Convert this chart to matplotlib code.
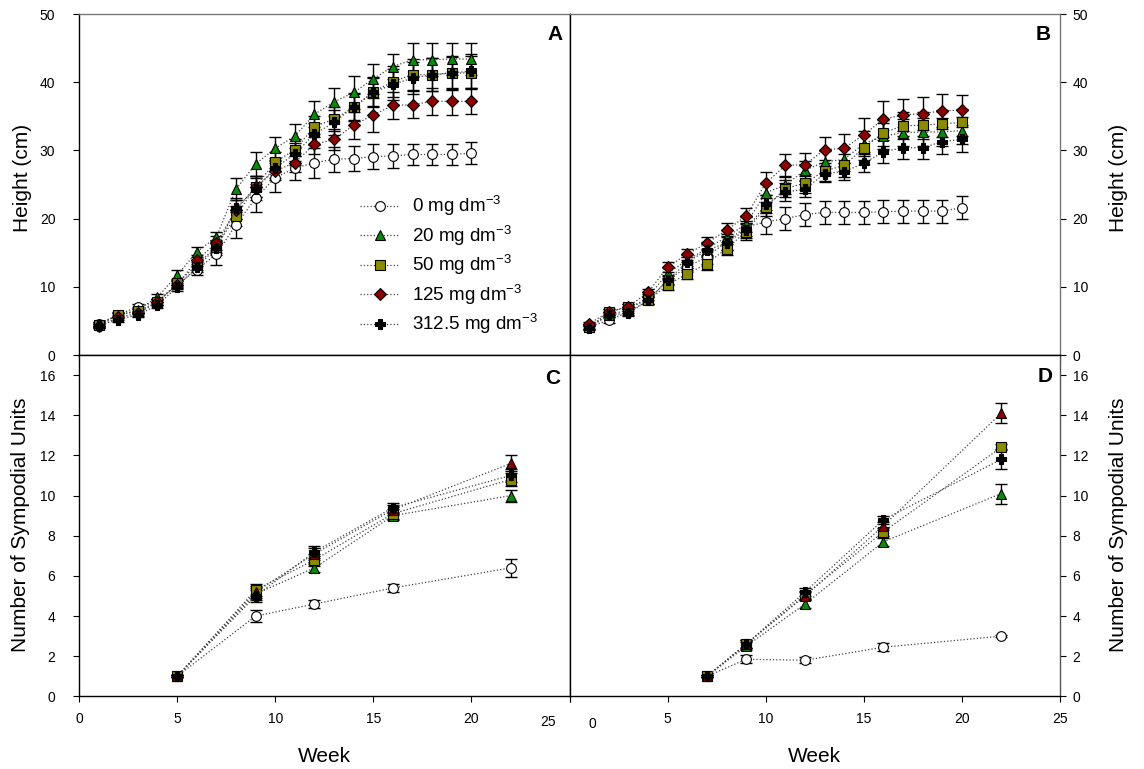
import matplotlib
matplotlib.use("Agg")
import matplotlib.pyplot as plt
from matplotlib.transforms import ScaledTranslation

plt.rcParams['font.family'] = ['Liberation Sans', 'DejaVu Sans']
plt.rcParams['mathtext.default'] = 'regular'

# ---------------- data ----------------
labels = ['0 mg dm$^{-3}$', '20 mg dm$^{-3}$', '50 mg dm$^{-3}$',
          '125 mg dm$^{-3}$', '312.5 mg dm$^{-3}$']

weeks_top = list(range(1, 21))

A_0 = [4.6, 5.9, 7.1, 7.8, 10.3, 12.5, 14.8, 19.1, 23.0, 26.0, 27.4, 28.2, 28.7, 28.8, 29.1, 29.2, 29.4, 29.4, 29.4, 29.6]
A_20 = [4.5, 5.8, 6.6, 8.5, 11.7, 15.1, 17.3, 24.3, 28.0, 30.3, 32.1, 35.3, 37.1, 38.5, 40.5, 42.3, 43.3, 43.3, 43.4, 43.4]
A_50 = [4.4, 5.9, 6.4, 7.8, 10.5, 13.2, 15.9, 20.4, 24.7, 28.3, 30.1, 33.5, 34.6, 36.3, 38.6, 40.1, 41.1, 41.1, 41.3, 41.4]
A_125 = [4.2, 5.5, 6.1, 7.8, 10.3, 13.9, 16.4, 21.3, 24.7, 27.0, 28.2, 30.9, 31.6, 33.7, 35.2, 36.6, 36.7, 37.2, 37.2, 37.2]
A_312 = [4.3, 5.2, 5.9, 7.3, 10.0, 12.9, 15.7, 21.5, 24.4, 27.4, 29.5, 32.4, 34.1, 36.4, 38.5, 39.7, 40.6, 41.1, 41.4, 41.6]

A_0e = [0.3, 0.3, 0.4, 0.4, 0.5, 0.8, 1.6, 1.9, 2.1, 2.1, 1.8, 2.2, 1.8, 1.8, 1.9, 1.8, 1.6, 1.6, 1.6, 1.6]
A_20e = [0.3, 0.4, 0.4, 0.5, 0.7, 0.8, 0.8, 1.6, 1.7, 1.7, 1.8, 1.9, 2.1, 2.4, 2.2, 1.9, 2.4, 2.4, 2.4, 2.3]
A_50e = [0.3, 0.4, 0.4, 0.4, 0.6, 0.8, 1.0, 1.5, 1.6, 1.5, 1.6, 1.6, 1.8, 2.0, 2.1, 2.3, 2.3, 2.4, 2.4, 2.4]
A_125e = [0.3, 0.4, 0.4, 0.4, 0.6, 0.8, 1.0, 1.4, 1.5, 1.4, 1.4, 1.5, 1.6, 2.0, 2.5, 2.0, 2.0, 2.0, 2.0, 1.9]
A_312e = [0.3, 0.4, 0.4, 0.4, 0.6, 0.8, 1.0, 1.5, 1.6, 1.5, 1.6, 1.6, 1.8, 2.0, 2.1, 2.3, 2.4, 2.4, 2.4, 2.5]

B_0 = [4.1, 5.1, 6.3, 8.0, 11.0, 12.9, 14.4, 16.6, 18.8, 19.5, 20.0, 20.6, 20.9, 20.9, 20.9, 21.0, 21.1, 21.1, 21.1, 21.6]
B_20 = [4.1, 5.9, 6.6, 8.5, 12.0, 13.9, 15.6, 17.3, 19.2, 23.8, 24.9, 27.1, 28.3, 28.7, 31.0, 32.1, 32.6, 32.7, 32.7, 32.9]
B_50 = [4.1, 6.3, 7.1, 8.0, 10.3, 11.9, 13.4, 15.6, 18.1, 21.7, 24.4, 25.2, 27.0, 27.8, 30.4, 32.6, 33.6, 33.7, 33.9, 34.1]
B_125 = [4.6, 6.3, 7.1, 9.2, 12.9, 14.8, 16.4, 18.3, 20.4, 25.2, 27.8, 27.9, 30.1, 30.3, 32.3, 34.6, 35.2, 35.4, 35.8, 35.9]
B_312 = [4.0, 5.9, 6.1, 8.0, 11.0, 13.6, 15.4, 16.4, 18.4, 22.1, 23.9, 24.3, 26.6, 26.9, 28.1, 29.8, 30.4, 30.4, 31.3, 31.6]

B_0e = [0.3, 0.4, 0.4, 0.5, 0.6, 0.8, 1.0, 1.2, 1.4, 1.8, 1.7, 1.7, 1.7, 1.7, 1.7, 1.7, 1.7, 1.7, 1.7, 1.7]
B_20e = [0.3, 0.4, 0.4, 0.5, 0.7, 0.8, 0.9, 1.0, 1.2, 1.3, 1.3, 1.4, 1.6, 1.7, 1.8, 1.9, 2.0, 2.0, 2.0, 2.0]
B_50e = [0.3, 0.4, 0.4, 0.5, 0.7, 0.8, 0.9, 1.0, 1.2, 1.3, 1.3, 1.4, 1.6, 1.7, 1.8, 1.9, 2.0, 2.0, 2.0, 2.0]
B_125e = [0.3, 0.4, 0.4, 0.5, 0.7, 0.8, 0.9, 1.0, 1.2, 1.7, 1.7, 1.7, 1.9, 2.1, 2.5, 2.7, 2.4, 2.4, 2.4, 2.2]
B_312e = [0.3, 0.4, 0.4, 0.5, 0.7, 0.8, 0.9, 1.0, 1.2, 1.3, 1.3, 1.2, 1.1, 1.2, 1.3, 1.7, 1.7, 1.7, 1.8, 1.9]

weeks_C = [5, 9, 12, 16, 22]
C_0 = [1.0, 4.0, 4.6, 5.4, 6.4]
C_20 = [1.0, 5.1, 6.4, 9.0, 10.0]
C_50 = [1.0, 5.3, 6.8, 9.1, 10.8]
C_125 = [1.0, 5.2, 7.1, 9.3, 11.6]
C_312 = [1.0, 5.0, 7.2, 9.4, 11.0]
C_0e = [0.05, 0.3, 0.2, 0.2, 0.45]
C_20e = [0.05, 0.3, 0.2, 0.2, 0.3]
C_50e = [0.05, 0.3, 0.3, 0.25, 0.3]
C_125e = [0.05, 0.3, 0.3, 0.25, 0.4]
C_312e = [0.05, 0.3, 0.3, 0.25, 0.3]

weeks_D = [7, 9, 12, 16, 22]
D_0 = [1.0, 1.85, 1.8, 2.45, 3.0]
D_20 = [1.0, 2.5, 4.6, 7.7, 10.1]
D_50 = [1.0, 2.6, 5.05, 8.2, 12.4]
D_125 = [1.0, 2.6, 5.0, 8.5, 14.1]
D_312 = [1.0, 2.6, 5.2, 8.8, 11.8]
D_0e = [0.05, 0.2, 0.15, 0.2, 0.05]
D_20e = [0.05, 0.2, 0.2, 0.2, 0.5]
D_50e = [0.05, 0.2, 0.2, 0.2, 0.15]
D_125e = [0.05, 0.2, 0.2, 0.2, 0.5]
D_312e = [0.05, 0.2, 0.2, 0.2, 0.5]

# ---------------- styles ----------------
face = ['white', '#0a8a0a', '#8b8b00', '#8b0000', 'black']
mk_top = ['o', '^', 's', 'D', 'P']
mk_bot = ['o', '^', 's', '^', 'P']
msize_top = [7, 7.5, 7, 6.5, 7.2]
msize_bot = [7, 7.5, 7, 7.5, 7.2]

W, H = 1144, 769
fig = plt.figure(figsize=(W / 100, H / 100), dpi=100)

def fx(p):
    return p / W

def fy(p):
    return 1 - p / H

xl, xm, xr = 79, 569.6, 1060
yt, ym, yb = 14, 355, 696.4

axA = fig.add_axes([fx(xl), fy(ym), fx(xm - xl), fy(yt) - fy(ym)])
axB = fig.add_axes([fx(xm), fy(ym), fx(xr - xm), fy(yt) - fy(ym)])
axC = fig.add_axes([fx(xl), fy(yb), fx(xm - xl), fy(ym) - fy(yb)])
axD = fig.add_axes([fx(xm), fy(yb), fx(xr - xm), fy(ym) - fy(yb)])


def draw(ax, x, series, errs, markers, sizes):
    handles = []
    for i, (y, e) in enumerate(zip(series, errs)):
        ax.errorbar(x, y, yerr=e, fmt='none', ecolor='black', elinewidth=1.0,
                    capsize=4.5, capthick=1.0, zorder=2 + i * 0.1)
        h, = ax.plot(x, y, linestyle=':', color='#444444', linewidth=0.9,
                     marker=markers[i], markersize=sizes[i],
                     markerfacecolor=face[i], markeredgecolor='black',
                     markeredgewidth=0.8, zorder=3 + i * 0.1, label=labels[i])
        handles.append(h)
    return handles


hA = draw(axA, weeks_top, [A_0, A_20, A_50, A_125, A_312],
          [A_0e, A_20e, A_50e, A_125e, A_312e], mk_top, msize_top)
draw(axB, weeks_top, [B_0, B_20, B_50, B_125, B_312],
     [B_0e, B_20e, B_50e, B_125e, B_312e], mk_top, msize_top)
draw(axC, weeks_C, [C_0, C_20, C_50, C_125, C_312],
     [C_0e, C_20e, C_50e, C_125e, C_312e], mk_bot, msize_bot)
draw(axD, weeks_D, [D_0, D_20, D_50, D_125, D_312],
     [D_0e, D_20e, D_50e, D_125e, D_312e], mk_bot, msize_bot)

for ax in (axA, axB, axC, axD):
    ax.set_xlim(0, 25)
    ax.set_xticks([0, 5, 10, 15, 20, 25])
    for s in ax.spines.values():
        s.set_linewidth(1.0)

for ax in (axA, axB):
    ax.set_ylim(0, 50)
    ax.set_yticks([0, 10, 20, 30, 40, 50])
    ax.tick_params(axis='x', direction='out', length=4, labelbottom=False)
for ax in (axC, axD):
    ax.set_ylim(0, 17)
    ax.set_yticks(list(range(0, 17, 2)))
    ax.tick_params(axis='x', direction='out', length=4, labelsize=10, pad=7)

gray = '#777777'
axA.spines['top'].set_color(gray)
axB.spines['top'].set_color(gray)
axB.spines['right'].set_color(gray)
axD.spines['right'].set_color('#555555')

for ax in (axA, axC):
    ax.tick_params(axis='y', direction='out', length=4, labelsize=10, pad=13,
                   left=True, right=False, labelleft=True)
for ax in (axB, axD):
    ax.tick_params(axis='y', direction='out', length=4, labelsize=10, pad=5,
                   left=False, right=True, labelleft=False, labelright=True)

# shift peculiar tick labels as in reference
fig.canvas.draw()
for lab in axC.get_xticklabels():
    if lab.get_text() == '25':
        lab.set_transform(lab.get_transform() + ScaledTranslation(-0.22, -0.03, fig.dpi_scale_trans))
for lab in axD.get_xticklabels():
    if lab.get_text() == '0':
        lab.set_transform(lab.get_transform() + ScaledTranslation(0.23, -0.05, fig.dpi_scale_trans))

# panel letters
for t, (px, py) in (('A', (555, 35)), ('B', (1043, 35)),
                    ('C', (553, 378)), ('D', (1045, 376))):
    fig.text(fx(px), fy(py), t, fontsize=15, fontweight='bold',
             ha='center', va='center')

# axis labels
fig.text(fx(23), fy(178), 'Height (cm)', rotation=90, fontsize=15,
         ha='center', va='center')
fig.text(fx(1118), fy(178), 'Height (cm)', rotation=90, fontsize=15,
         ha='center', va='center')
fig.text(fx(21), fy(525), 'Number of Sympodial Units', rotation=90, fontsize=15,
         ha='center', va='center')
fig.text(fx(1118), fy(525), 'Number of Sympodial Units', rotation=90, fontsize=15,
         ha='center', va='center')
fig.text(fx(324), fy(756), 'Week', fontsize=15, ha='center', va='center')
fig.text(fx(814), fy(756), 'Week', fontsize=15, ha='center', va='center')

# legend
axA.legend(handles=hA, loc='upper left', frameon=False, fontsize=13.5,
           handlelength=2.1, handletextpad=0.7, labelspacing=0.29,
           borderpad=0, borderaxespad=0,
           bbox_to_anchor=(fx(360), fy(194)), bbox_transform=fig.transFigure)

fig.savefig('out.png', dpi=100)
